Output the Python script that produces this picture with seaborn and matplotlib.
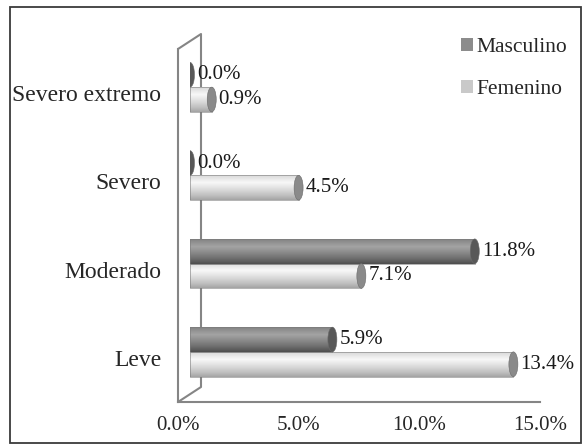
import numpy as np
import pandas as pd
import matplotlib
matplotlib.use("Agg")
import matplotlib.pyplot as plt
import seaborn as sns
from matplotlib.patches import Ellipse, Patch, Rectangle

# ---------------------------------------------------------------- data
NIVELES   = ["Severo extremo", "Severo", "Moderado", "Leve"]
SERIES    = ["Masculino", "Femenino"]
MASCULINO = [0.0, 0.0, 11.8, 5.9]
FEMENINO  = [0.9, 4.5, 7.1, 13.4]
X_TICKS   = [0, 5, 10, 15]
X_LABELS  = ["0.0%", "5.0%", "10.0%", "15.0%"]

W, H = 583, 445
FONT = ["Liberation Serif", "DejaVu Serif"]

# (dark, light, cap colour, legend colour) per series
STYLE = {
    "Masculino": (0.28, 0.64, "#585858", "#8c8c8c"),
    "Femenino":  (0.62, 0.97, "#8a8a8a", "#c9c9c9"),
}
AXIS_C = "#858585"


def build_frame():
    df = pd.DataFrame({
        "nivel": NIVELES * 2,
        "sexo":  ["Masculino"] * len(NIVELES) + ["Femenino"] * len(NIVELES),
        "pct":   MASCULINO + FEMENINO,
    })
    return df


def shade_bar(ax, patch, dark, light, cap_c, px_per_unit):
    x, y = patch.get_x(), patch.get_y()
    w, h = patch.get_width(), patch.get_height()
    cap_w = 9.0 / px_per_unit
    if w > 0:
        t = np.linspace(0, 1, 64)
        prof = np.clip(1 - np.abs(t - 0.3) / 0.72, 0, 1) ** 0.8
        grey = (dark + (light - dark) * prof)[:, None]
        im = ax.imshow(grey, extent=[x, x + w, y + h, y], aspect="auto",
                       cmap="gray", vmin=0, vmax=1, interpolation="bilinear",
                       zorder=2)
        im.set_clip_path(patch)
    patch.set_facecolor("none")
    patch.set_edgecolor("#7a7a7a")
    patch.set_linewidth(0.4)
    patch.set_zorder(3)
    cap = Ellipse((x + w, y + h / 2), cap_w, h, facecolor=cap_c,
                  edgecolor="#6a6a6a", lw=0.4, zorder=4)
    ax.add_patch(cap)


def main():
    sns.set_style("white")
    plt.rcParams["font.family"] = FONT

    df = build_frame()
    fig = plt.figure(figsize=(W / 100, H / 100), dpi=100)

    # front frame axes (ticks, labels, floor lines)
    left, right, bottom, top = 178, 540, 402, 49
    pos = [left / W, 1 - bottom / H, (right - left) / W, (bottom - top) / H]
    ax_f = fig.add_axes(pos)
    ax_f.set_xlim(0, 15)
    ax_f.set_ylim(len(NIVELES) - 0.5, -0.5)
    ax_f.set_xticks(X_TICKS)
    ax_f.set_xticklabels(X_LABELS, fontsize=15)
    ax_f.set_yticks(np.arange(len(NIVELES) + 1) - 0.5)
    ax_f.set_yticklabels([])
    ax_f.set_yticks(np.arange(len(NIVELES)), minor=True)
    ax_f.set_yticklabels(NIVELES, minor=True, fontsize=17)
    ax_f.tick_params(axis="y", which="major", length=6, width=1.3,
                     color=AXIS_C, direction="out")
    ax_f.tick_params(axis="y", which="minor", length=0, pad=12)
    ax_f.tick_params(axis="x", length=4, width=1.3, color=AXIS_C, pad=6)
    for s in ["top", "right"]:
        ax_f.spines[s].set_visible(False)
    for s in ["left", "bottom"]:
        ax_f.spines[s].set_color(AXIS_C)
        ax_f.spines[s].set_linewidth(1.5)
    ax_f.patch.set_alpha(0)
    depth_x, depth_y = 23 / (right - left), 15 / (bottom - top)
    ax_f.plot([0, depth_x, depth_x, 0],
              [0, depth_y, 1 + depth_y, 1],
              transform=ax_f.transAxes, color=AXIS_C, lw=1.5,
              clip_on=False, zorder=1)

    # bar axes, shifted to sit at mid depth
    pos_b = [pos[0] + 12 / W, pos[1] + 6 / H, pos[2], pos[3]]
    ax_b = fig.add_axes(pos_b)
    sns.barplot(data=df, y="nivel", x="pct", hue="sexo", order=NIVELES,
                hue_order=SERIES, orient="h", width=0.56, ax=ax_b,
                palette=[STYLE[s][3] for s in SERIES], legend=False)
    ax_b.set_xlim(0, 15)
    ax_b.set_ylim(len(NIVELES) - 0.5, -0.5)
    ax_b.axis("off")
    ax_b.patch.set_alpha(0)

    px_per_unit = (right - left) / 15.0
    for name, cont in zip(SERIES, ax_b.containers):
        dark, light, cap_c, _ = STYLE[name]
        for patch in cont.patches:
            shade_bar(ax_b, patch, dark, light, cap_c, px_per_unit)
        ax_b.bar_label(cont, labels=[f"{v:.1f}%" for v in cont.datavalues],
                       padding=5, fontsize=15, color="#1a1a1a")
    ax_b.set_xlim(0, 15)
    ax_b.set_ylim(len(NIVELES) - 0.5, -0.5)

    handles = [Patch(facecolor=STYLE[s][3], edgecolor="none", label=s)
               for s in SERIES]
    fig.legend(handles=handles, loc="upper left",
               bbox_to_anchor=(442 / W, 1 - 19 / H), frameon=False,
               fontsize=15.5, handlelength=0.55, handleheight=0.55,
               handletextpad=0.15, labelspacing=1.05)

    fig.patches.append(Rectangle((10 / W, 2 / H), 571 / W, 436 / H,
                                 transform=fig.transFigure, fill=False,
                                 edgecolor="#3a3a3a", lw=1.3))

    fig.savefig("out.png", dpi=100)
    plt.close(fig)


if __name__ == "__main__":
    main()
